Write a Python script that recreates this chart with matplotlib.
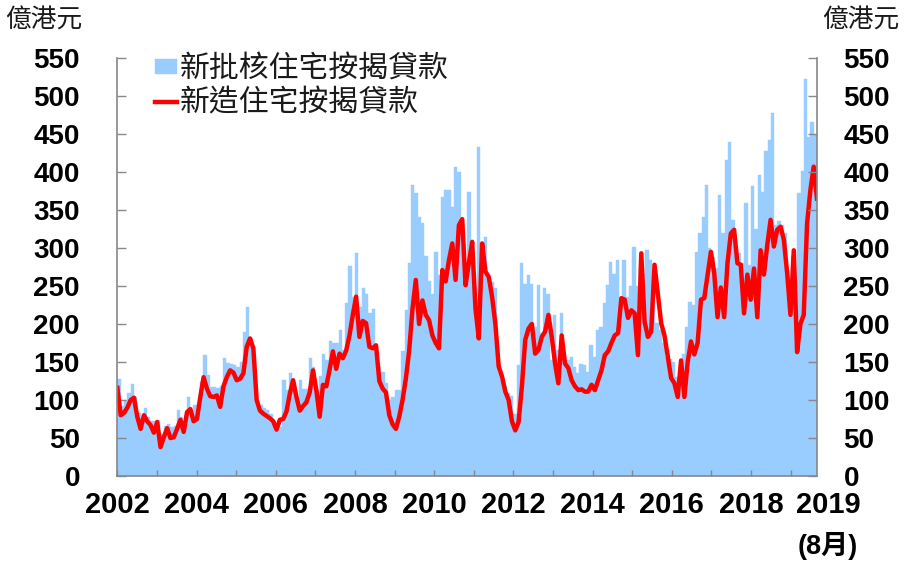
import numpy as np
import matplotlib
matplotlib.use("Agg")
import matplotlib.pyplot as plt

plt.rcParams['font.family'] = ['Liberation Sans', 'Noto Sans CJK TC', 'DejaVu Sans']

# monthly data, Jan 2002 - Aug 2019 (HK$ 100 million)
approved = [
    128, 92, 100, 109, 121, 104, 83, 70, 89, 78, 72, 72,          # 2002
    74, 55, 66, 68, 65, 66, 87, 78, 70, 104, 83, 93,              # 2003
    95, 124, 159, 133, 117, 117, 116, 118, 155, 149, 147, 146,    # 2004
    143, 150, 189, 222, 181, 149, 95, 93, 90, 87, 82, 69,         # 2005
    63, 65, 126, 113, 135, 122, 104, 126, 115, 115, 155, 144,     # 2006
    113, 131, 161, 153, 177, 175, 175, 192, 166, 227, 276, 236,   # 2007
    293, 223, 247, 240, 214, 220, 170, 144, 137, 122, 100, 104,   # 2008
    113, 113, 165, 218, 280, 383, 372, 341, 333, 289, 256, 240,   # 2009
    295, 265, 367, 376, 376, 354, 407, 400, 306, 253, 374, 310,   # 2010
    250, 433, 269, 315, 265, 255, 248, 148, 126, 118, 109, 105,   # 2011
    82, 146, 280, 253, 265, 253, 196, 251, 188, 247, 240, 153,    # 2012
    212, 166, 215, 154, 152, 157, 144, 135, 148, 146, 137, 172,   # 2013
    157, 192, 196, 227, 251, 282, 266, 284, 236, 284, 236, 250,   # 2014
    301, 250, 276, 266, 297, 284, 240, 201, 192, 175, 157, 154,   # 2015
    150, 130, 125, 160, 196, 229, 225, 295, 320, 341, 383, 300,   # 2016
    288, 274, 370, 320, 416, 440, 337, 300, 293, 280, 359, 277,   # 2017
    381, 325, 396, 374, 427, 442, 477, 330, 335, 330, 320, 262,   # 2018
    290, 268, 373, 401, 523, 446, 466, 449,                       # 2019
]

made = [
    116, 80, 83, 90, 100, 103, 78, 62, 80, 72, 67, 57,            # 2002
    71, 38, 51, 63, 50, 51, 62, 74, 58, 84, 88, 72,               # 2003
    75, 104, 130, 115, 105, 104, 106, 91, 118, 130, 139, 136,     # 2004
    126, 128, 135, 170, 181, 168, 100, 86, 82, 79, 76, 72,        # 2005
    61, 74, 75, 85, 108, 126, 104, 86, 92, 97, 110, 139,          # 2006
    113, 78, 120, 118, 140, 164, 141, 161, 155, 165, 185, 212,    # 2007
    236, 183, 204, 201, 170, 168, 172, 125, 115, 110, 80, 68,     # 2008
    62, 78, 100, 128, 165, 220, 258, 200, 231, 212, 205, 185,     # 2009
    175, 168, 271, 256, 284, 306, 258, 330, 338, 251, 280, 308,   # 2010
    220, 181, 306, 269, 262, 236, 200, 144, 131, 111, 100, 72,    # 2011
    60, 71, 118, 179, 194, 200, 161, 166, 183, 190, 212, 183,     # 2012
    148, 122, 185, 148, 142, 126, 118, 113, 114, 111, 111, 120,   # 2013
    113, 126, 139, 159, 164, 175, 185, 188, 234, 232, 208, 218,   # 2014
    214, 159, 293, 203, 183, 190, 278, 240, 201, 185, 157, 129,   # 2015
    122, 104, 152, 104, 150, 177, 160, 175, 232, 234, 265, 295,   # 2016
    267, 209, 248, 209, 280, 319, 324, 280, 278, 214, 265, 232,   # 2017
    273, 209, 297, 265, 304, 337, 302, 324, 328, 311, 267, 212,   # 2018
    297, 163, 200, 212, 332, 376, 407, 365,                       # 2019
]

years = list(range(2002, 2020))
year_labels = [str(y) if (y % 2 == 0) else '' for y in years]
yticks = list(range(0, 551, 50))

label_approved = '新批核住宅按揭貸款'
label_made = '新造住宅按揭貸款'
unit = '億港元'

n = len(approved)
xb = np.arange(n)
xl = np.linspace(-0.5, n - 0.5, len(made))

W, H = 915, 568
fig = plt.figure(figsize=(W / 100, H / 100), dpi=100)
ax = fig.add_axes([117.4 / W, 1 - 476 / H, (817 - 117.4) / W, (476 - 58) / H])

bars = ax.bar(xb, approved, width=1.0, color='#99CCFF', edgecolor='#99CCFF',
              linewidth=0.3, label=label_approved)
line, = ax.plot(xl, made, color='#FF0000', lw=3.2, solid_joinstyle='round',
                label=label_made)

ax.set_xlim(-0.5, n - 0.5)
ax.set_ylim(0, 550)

grey = '#888888'
for s in ['left', 'right', 'bottom']:
    ax.spines[s].set_color(grey)
    ax.spines[s].set_linewidth(1.2)
ax.spines['top'].set_visible(False)

# y axis left
ax.set_yticks(yticks)
ax.tick_params(axis='y', direction='in', length=6.5, width=1, color=grey,
               labelsize=20, pad=27)
for t in ax.get_yticklabels():
    t.set_fontweight('bold')

# y axis right
ax2 = ax.twinx()
ax2.set_ylim(0, 550)
ax2.set_yticks(yticks)
ax2.tick_params(axis='y', direction='in', length=6.5, width=1, color=grey,
                labelsize=20, pad=19)
for t in ax2.get_yticklabels():
    t.set_fontweight('bold')
for s in ax2.spines.values():
    s.set_visible(False)

# x axis: year boundaries
xt = [-0.5 + 12 * i for i in range(len(years))]
ax.set_xticks(xt)
ax.set_xticklabels(year_labels)
ax.tick_params(axis='x', direction='in', length=4.5, width=1, color=grey,
               labelsize=21, pad=11)
for t in ax.get_xticklabels():
    t.set_fontweight('bold')

x_end = -0.5 + (828 - 117.4) / 3.3
ax.annotate('2019', xy=(x_end, 0), xycoords=('data', 'axes fraction'),
            xytext=(0, -11), textcoords='offset points', ha='center', va='top',
            fontsize=21, fontweight='bold', annotation_clip=False)
ax.annotate('(8月)', xy=(x_end, 0), xycoords=('data', 'axes fraction'),
            xytext=(0, -40), textcoords='offset points', ha='center', va='top',
            fontsize=19.5, fontweight='bold', annotation_clip=False)

# units
fig.text(5 / W, 1 - 8 / H, unit, ha='left', va='top', fontsize=18.5,
         family=['Noto Sans CJK TC'], color='#1a1a1a')
fig.text(822 / W, 1 - 8 / H, unit, ha='left', va='top', fontsize=18.5,
         family=['Noto Sans CJK TC'], color='#1a1a1a')

leg = ax.legend(handles=[bars, line], loc='upper left',
                bbox_to_anchor=(155 / W, 1 - 53 / H), bbox_transform=fig.transFigure,
                frameon=False, borderpad=0, borderaxespad=0,
                handlelength=0.72, handleheight=0.4, handletextpad=0.1,
                labelspacing=0.12,
                prop={'family': ['Noto Sans CJK TC'], 'size': 21.5})
for t in leg.get_texts():
    t.set_color('#1a1a1a')

fig.savefig('out.png', dpi=100)
